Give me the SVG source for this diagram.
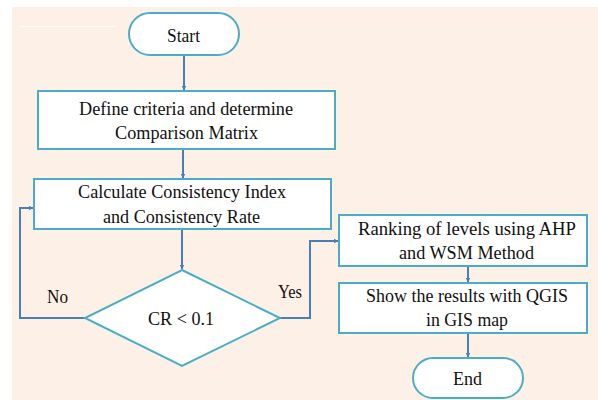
<svg xmlns="http://www.w3.org/2000/svg" width="598" height="400" viewBox="0 0 598 400">
<defs>
<style>
.box{fill:#ffffff;stroke:#4BACC6;stroke-width:2}
.con{fill:none;stroke:#4A7EBB;stroke-width:2}
.t{font-family:"Liberation Serif","DejaVu Serif",serif;font-size:19.5px;fill:#111111;text-anchor:middle}
.lbl{font-family:"Liberation Serif","DejaVu Serif",serif;font-size:19.5px;fill:#111111;text-anchor:start}
</style>
<marker id="arr" viewBox="0 0 10 10" refX="9" refY="5" markerWidth="5" markerHeight="5" orient="auto" markerUnits="userSpaceOnUse">
<path d="M0,0 L10,5 L0,10 z" fill="#4A7EBB"/>
</marker>
</defs>
<rect x="0" y="0" width="598" height="400" fill="#ffffff"/>
<rect x="12" y="7" width="586" height="393" fill="#FDF1E7"/>
<line x1="19" y1="26.5" x2="116" y2="26.5" stroke="#ffffff" stroke-width="1" opacity="0.8"/>

<g id="connectors">
<line class="con" x1="184" y1="55" x2="184" y2="90" marker-end="url(#arr)"/>
<line class="con" x1="183" y1="149" x2="183" y2="178" marker-end="url(#arr)"/>
<line class="con" x1="182" y1="229" x2="182" y2="269" marker-end="url(#arr)"/>
<polyline class="con" points="85,318 20,318 20,208 33,208" marker-end="url(#arr)"/>
<polyline class="con" points="280,318 310,318 310,241 338,241" marker-end="url(#arr)"/>
<line class="con" x1="468" y1="266" x2="468" y2="282" marker-end="url(#arr)"/>
<line class="con" x1="468" y1="333" x2="468" y2="357" marker-end="url(#arr)"/>
</g>

<g id="start">
<rect class="box" x="129" y="13" width="110" height="42" rx="21" ry="21"/>
<text class="t" x="183.5" y="42" textLength="33" lengthAdjust="spacingAndGlyphs">Start</text>
</g>

<g id="define">
<rect class="box" x="38" y="91" width="297" height="58"/>
<text class="t" x="186" y="115" textLength="214" lengthAdjust="spacingAndGlyphs">Define criteria and determine</text>
<text class="t" x="186.5" y="139" textLength="143" lengthAdjust="spacingAndGlyphs">Comparison Matrix</text>
</g>

<g id="calculate">
<rect class="box" x="34" y="179" width="297" height="50"/>
<text class="t" x="182" y="198" textLength="208" lengthAdjust="spacingAndGlyphs">Calculate Consistency Index</text>
<text class="t" x="181.5" y="223" textLength="157" lengthAdjust="spacingAndGlyphs">and Consistency Rate</text>
</g>

<g id="decision">
<polygon class="box" points="182,270 280,318 182,366 85,318"/>
<text class="t" x="181" y="325" textLength="66" lengthAdjust="spacingAndGlyphs">CR &lt; 0.1</text>
</g>

<g id="labels">
<text class="lbl" x="47" y="303" textLength="21" lengthAdjust="spacingAndGlyphs">No</text>
<text class="lbl" x="278" y="298" textLength="24" lengthAdjust="spacingAndGlyphs">Yes</text>
</g>

<g id="ranking">
<rect class="box" x="339" y="215" width="248" height="51"/>
<text class="t" x="467" y="235" textLength="218" lengthAdjust="spacingAndGlyphs">Ranking of levels using  AHP</text>
<text class="t" x="466.5" y="259" textLength="135" lengthAdjust="spacingAndGlyphs">and WSM Method</text>
</g>

<g id="show">
<rect class="box" x="339" y="283" width="248" height="50"/>
<text class="t" x="467" y="302" textLength="202" lengthAdjust="spacingAndGlyphs">Show the results with QGIS</text>
<text class="t" x="467" y="326" textLength="82" lengthAdjust="spacingAndGlyphs">in GIS map</text>
</g>

<g id="end">
<rect class="box" x="413" y="358" width="110" height="40" rx="20" ry="20"/>
<text class="t" x="467.5" y="385" textLength="29" lengthAdjust="spacingAndGlyphs">End</text>
</g>
</svg>
